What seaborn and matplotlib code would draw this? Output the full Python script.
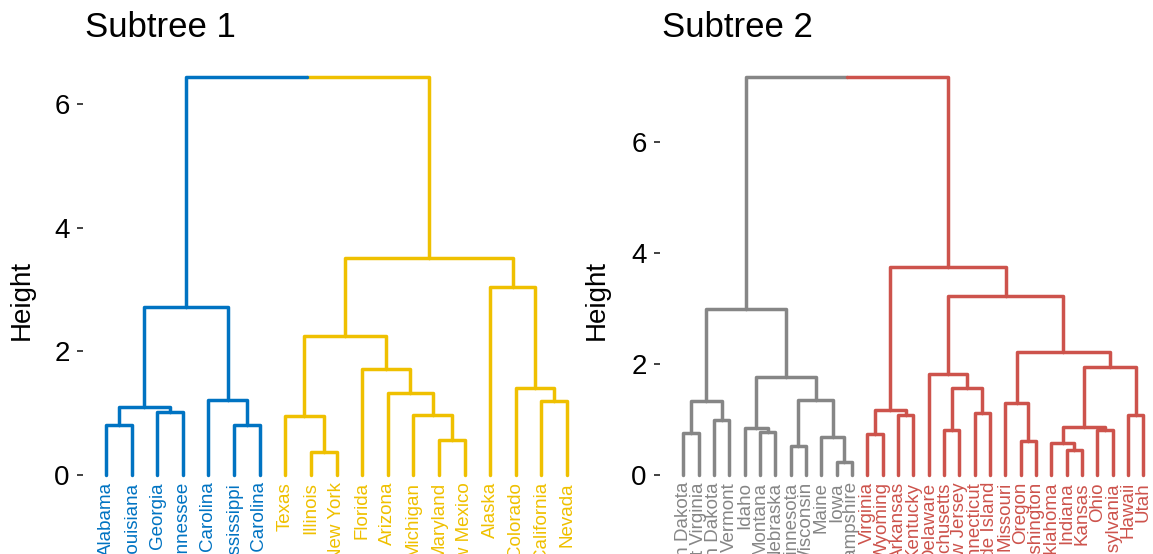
import pandas as pd
import matplotlib
matplotlib.use("Agg")
import matplotlib.pyplot as plt
import matplotlib.transforms as mtransforms
import seaborn as sns

# ---- data: subtree 1 ----
labels_1 = ["Alabama", "Louisiana", "Georgia", "Tennessee", "North Carolina",
            "Mississippi", "South Carolina", "Texas", "Illinois", "New York",
            "Florida", "Arizona", "Michigan", "Maryland", "New Mexico",
            "Alaska", "Colorado", "California", "Nevada"]
groups_1 = ["A", "A", "A", "A", "A", "A", "A",
            "B", "B", "B", "B", "B", "B", "B", "B", "B", "B", "B", "B"]
# hclust-style merges: negative = leaf index, positive = earlier merge row
merge_1 = [(-9, -10), (-14, -15), (-1, -2), (-6, -7), (-8, 1), (-13, 2),
           (-3, -4), (3, 7), (-18, -19), (-5, 4), (-12, 6), (-17, 9),
           (-11, 11), (5, 13), (8, 10), (-16, 12), (14, 16), (15, 17)]
height_1 = [0.37, 0.56, 0.80, 0.81, 0.96, 0.97, 1.02, 1.10, 1.20, 1.22,
            1.32, 1.40, 1.71, 2.25, 2.72, 3.04, 3.51, 6.44]

# ---- data: subtree 2 ----
labels_2 = ["North Dakota", "West Virginia", "South Dakota", "Vermont", "Idaho",
            "Montana", "Nebraska", "Minnesota", "Wisconsin", "Maine", "Iowa",
            "New Hampshire", "Virginia", "Wyoming", "Arkansas", "Kentucky",
            "Delaware", "Massachusetts", "New Jersey", "Connecticut",
            "Rhode Island", "Missouri", "Oregon", "Washington", "Oklahoma",
            "Indiana", "Kansas", "Ohio", "Pennsylvania", "Hawaii", "Utah"]
groups_2 = ["C", "C", "C", "C", "C", "C", "C", "C", "C", "C", "C", "C",
            "D", "D", "D", "D", "D", "D", "D", "D", "D", "D", "D", "D", "D",
            "D", "D", "D", "D", "D", "D"]
merge_2 = [(-11, -12), (-26, -27), (-8, -9), (-25, 2), (-23, -24), (-10, 1),
           (-13, -14), (-1, -2), (-6, -7), (-28, -29), (-18, -19), (-5, 9),
           (4, 10), (-3, -4), (-15, -16), (-30, -31), (-20, -21), (7, 15),
           (-22, 5), (8, 14), (3, 6), (11, 17), (12, 21), (-17, 22), (13, 16),
           (19, 25), (20, 23), (24, 26), (18, 28), (27, 29)]
height_2 = [0.24, 0.45, 0.52, 0.58, 0.61, 0.68, 0.74, 0.75, 0.77, 0.81, 0.82,
            0.84, 0.87, 1.00, 1.09, 1.09, 1.11, 1.18, 1.29, 1.34, 1.36, 1.56,
            1.77, 1.83, 1.95, 2.22, 3.00, 3.23, 3.75, 7.18]

palette = {"A": "#0073C2", "B": "#EFC000", "C": "#868686", "D": "#CD534C"}


def dendro_segments(groups, merge, heights):
    """Turn an hclust merge table into elbow segments (one per child edge)."""
    def node(i):
        if i < 0:
            return float(-i), 0.0, groups[-i - 1]
        return nodes[i - 1]

    nodes, rows, seg = [], [], 0
    for (a, b), h in zip(merge, heights):
        xa, ha, ga = node(a)
        xb, hb, gb = node(b)
        px = (xa + xb) / 2
        for cx, ch, cg in ((xa, ha, ga), (xb, hb, gb)):
            for x, y in ((cx, ch), (cx, h), (px, h)):
                rows.append({"seg": seg, "x": x, "y": y, "group": cg})
            seg += 1
        nodes.append((px, h, ga if ga == gb else None))
    return pd.DataFrame(rows)


sns.set_theme(style="white")
plt.rcParams["font.family"] = ["Liberation Sans", "DejaVu Sans"]

W, H = 1153, 554
fig = plt.figure(figsize=(W / 100, H / 100), dpi=100)

panels = [
    # labels, groups, merge, heights, title, axes px (left, right), ylabel px, xlim, ylim
    (labels_1, groups_1, merge_1, height_1, "Subtree 1", (83, 590), 35, (0.10, 19.9), (-1.278, 6.71)),
    (labels_2, groups_2, merge_2, height_2, "Subtree 2", (660, 1153), 610, (-0.52, 31.63), (-1.423, 7.48)),
]
top_px = 60

for labels, groups, merge, heights, title, (l, r), lab_px, xlim, ylim in panels:
    ax = fig.add_axes([l / W, 0, (r - l) / W, (H - top_px) / H])
    df = dendro_segments(groups, merge, heights)
    sns.lineplot(data=df, x="x", y="y", units="seg", hue="group",
                 palette=palette, estimator=None, sort=False,
                 linewidth=2.5, legend=False, ax=ax)
    ax.set_xlim(*xlim)
    ax.set_ylim(*ylim)

    off = mtransforms.offset_copy(ax.transData, fig=fig, y=-7, units="dots")
    for i, (name, g) in enumerate(zip(labels, groups), start=1):
        ax.text(i, 0, name, rotation=90, ha="center", va="top",
                fontsize=13.5, color=palette[g], transform=off)

    for s in ax.spines.values():
        s.set_visible(False)
    ax.set_xticks([])
    ax.set_xlabel("")
    ax.set_yticks([0, 2, 4, 6])
    ax.tick_params(axis="y", left=True, length=4.5, width=1.3, color="#333333",
                   labelsize=20, pad=5, labelcolor="black")
    ax.set_ylabel("Height", fontsize=20, color="black")
    ax.yaxis.set_label_coords((lab_px - l) / (r - l), 0.514)
    ax.set_title("")
    fig.text((l + 2) / W, 1 - 37 / H, title, fontsize=25, ha="left",
             va="baseline", color="black")

fig.savefig("out.png", dpi=100)
